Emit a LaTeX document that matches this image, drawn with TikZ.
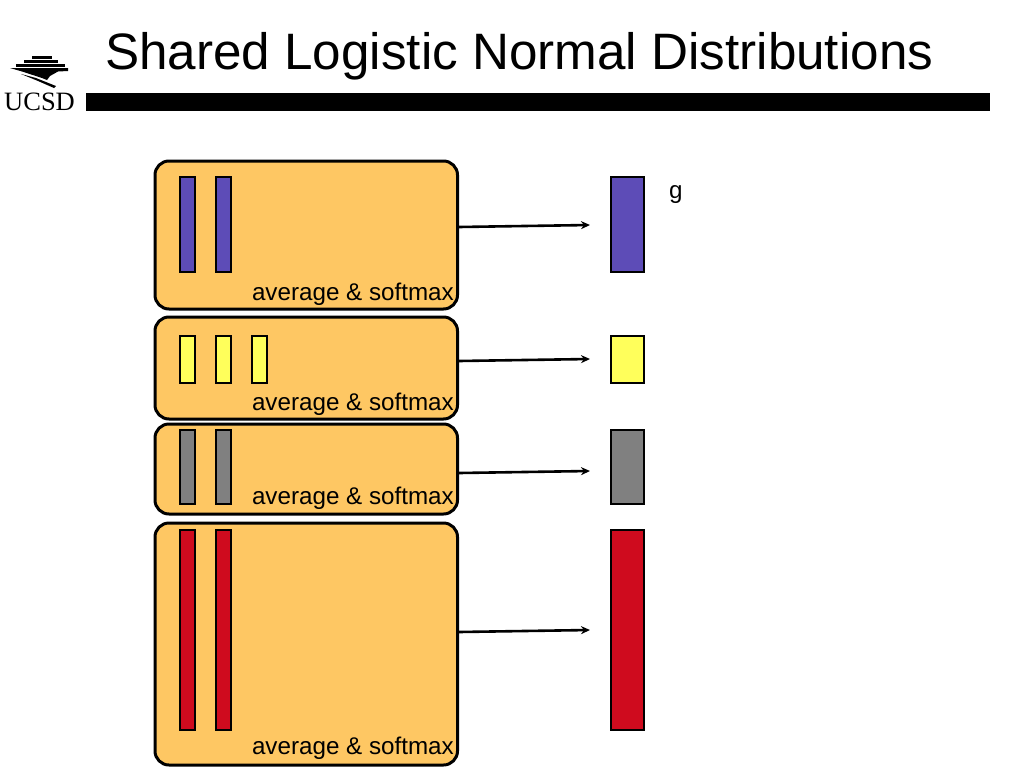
\documentclass[tikz,border=0pt]{standalone}
\usepackage{fontspec}
\setmainfont{Liberation Sans}
\newfontfamily\logofont{Liberation Serif}
\usetikzlibrary{arrows.meta}
\definecolor{boxfill}{RGB}{254,199,99}
\definecolor{cblue}{RGB}{93,76,183}
\definecolor{cyellow}{RGB}{255,255,91}
\definecolor{cgray}{RGB}{128,128,128}
\definecolor{cred}{RGB}{207,11,30}
\tikzset{
 groupbox/.style={draw=black,line width=3pt,rounded corners=14pt,fill=boxfill,anchor=north west,inner sep=0pt,minimum width=302.5pt},
 bar/.style={draw=black,line width=2.8pt,anchor=north west,inner sep=0pt},
 smallbar/.style={bar,minimum width=15pt},
 bigbar/.style={bar,minimum width=33pt},
 lbl/.style={font=\fontsize{24.2}{27}\selectfont,anchor=base east,inner sep=0pt},
 conn/.style={line width=2.6pt,-{Stealth[length=9pt,width=8pt]}},
 logoshape/.style={fill=black,draw=none}
}
\begin{document}
\begin{tikzpicture}[x=1pt,y=-1pt]
\useasboundingbox (0,0) rectangle (1024,768);
\fill[white] (0,0) rectangle (1024,768);
% title
\node[anchor=base west,inner sep=0pt,font=\fontsize{51.2}{56}\selectfont] (title) at (105,69) {Shared Logistic Normal Distributions};
\node[fill=black,anchor=north west,inner sep=0pt,minimum width=904pt,minimum height=18pt] (rule) at (86,93) {};
% logo
\fill[logoshape] (32,56) rectangle (52,58.5);
\fill[logoshape] (24,60) rectangle (58,62.5);
\fill[logoshape] (16,64) rectangle (65,67);
\fill[logoshape] (10,68) -- (68,68) -- (68,71) -- (58,71.5) -- (50,76) -- (47,80) -- (42,78) -- (22,71.5) -- cycle;
\fill[logoshape] (21,74) -- (36,78) -- (56,86) -- (54,88) -- (38,81) -- cycle;
\node[anchor=base west,inner sep=0pt,font=\logofont\fontsize{26.5}{29}\selectfont] (logotext) at (4,110) {UCSD};
% groups
\node[groupbox,minimum height=148pt] (g1) at (153.5,159.5) {};
\node[groupbox,minimum height=102pt] (g2) at (153.5,315.5) {};
\node[groupbox,minimum height=90pt] (g3) at (153.5,422.5) {};
\node[groupbox,minimum height=242pt] (g4) at (153.5,521.5) {};
% left bars
\node[smallbar,fill=cblue,minimum height=95pt] (a1) at (178.5,175.5) {};
\node[smallbar,fill=cblue,minimum height=95pt] (a2) at (214.5,175.5) {};
\node[smallbar,fill=cyellow,minimum height=47pt] (b1) at (178.5,334.5) {};
\node[smallbar,fill=cyellow,minimum height=47pt] (b2) at (214.5,334.5) {};
\node[smallbar,fill=cyellow,minimum height=47pt] (b3) at (250.5,334.5) {};
\node[smallbar,fill=cgray,minimum height=74pt] (c1) at (178.5,428.5) {};
\node[smallbar,fill=cgray,minimum height=74pt] (c2) at (214.5,428.5) {};
\node[smallbar,fill=cred,minimum height=200pt] (d1) at (178.5,528.5) {};
\node[smallbar,fill=cred,minimum height=200pt] (d2) at (214.5,528.5) {};
% right bars
\node[bigbar,fill=cblue,minimum height=95pt] (ra) at (609.5,175.5) {};
\node[bigbar,fill=cyellow,minimum height=47pt] (rb) at (609.5,334.5) {};
\node[bigbar,fill=cgray,minimum height=74pt] (rc) at (609.5,428.5) {};
\node[bigbar,fill=cred,minimum height=200pt] (rd) at (609.5,528.5) {};
% labels
\node[lbl] (l1) at (454,300) {average \& softmax};
\node[lbl] (l2) at (454,410) {average \& softmax};
\node[lbl] (l3) at (454,504) {average \& softmax};
\node[lbl] (l4) at (454,754.5) {average \& softmax};
\node[anchor=base west,inner sep=0pt,font=\fontsize{24.2}{27}\selectfont] (g) at (669,198) {g};
% connectors: each leaves its group box at the height of a named point
\coordinate (sa) at (458,227); \coordinate (ea) at (590,225);
\coordinate (sb) at (458,361); \coordinate (eb) at (590,359);
\coordinate (sc) at (458,473); \coordinate (ec) at (590,471);
\coordinate (sd) at (458,632); \coordinate (ed) at (590,630);
\draw[conn] (g1.east |- sa) -- (ea);
\draw[conn] (g2.east |- sb) -- (eb);
\draw[conn] (g3.east |- sc) -- (ec);
\draw[conn] (g4.east |- sd) -- (ed);
\end{tikzpicture}
\end{document}
